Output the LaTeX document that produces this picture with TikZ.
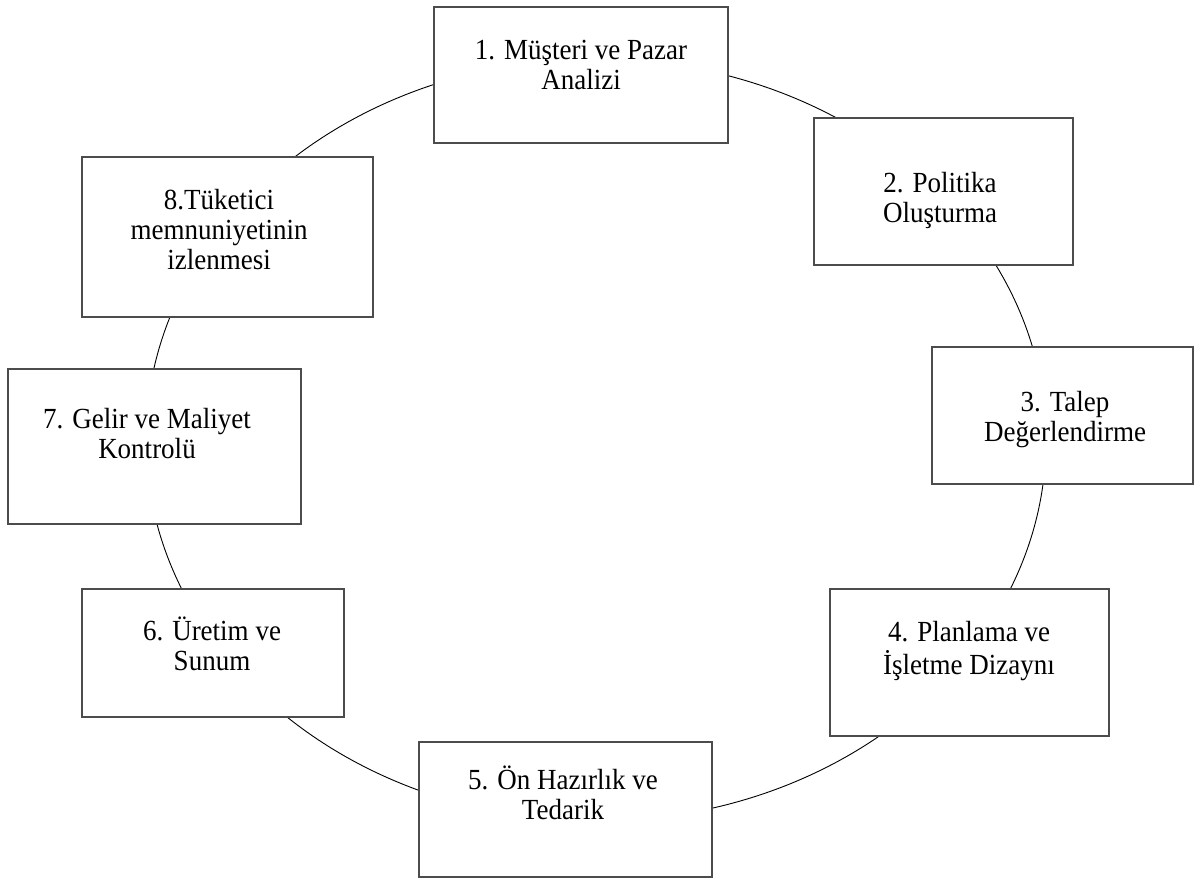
\documentclass[tikz,border=0pt]{standalone}
\usepackage{fontspec}
\setmainfont{Liberation Serif}
\usetikzlibrary{shapes.geometric}
\newcommand{\stagetext}[1]{\scalebox{1}[1.08]{\begin{tabular}[t]{@{}c@{}}#1\end{tabular}}}
\begin{document}
\begin{tikzpicture}[x=1pt,y=-1pt,
  stage/.style={draw=black!70, line width=1.4pt, fill=white, rectangle, inner sep=0pt},
  ring/.style={draw=black, line width=0.9pt, ellipse, inner sep=0pt, minimum width=900pt, minimum height=762pt},
  lbl/.style={anchor=base, inner sep=0pt, font=\fontsize{27}{27.8}\selectfont}]
\fill[white] (0,0) rectangle (1197,879);
\useasboundingbox (0,0) rectangle (1197,879);
\node[ring] (ring) at (596,440) {};
% boxes
\node[stage, minimum width=294pt, minimum height=136pt] (b1) at (581,75) {};
\node[stage, minimum width=259pt, minimum height=147pt] (b2) at (943.5,191.5) {};
\node[stage, minimum width=261pt, minimum height=137pt] (b3) at (1062.5,415.5) {};
\node[stage, minimum width=279pt, minimum height=147pt] (b4) at (969.5,662.5) {};
\node[stage, minimum width=293pt, minimum height=135pt] (b5) at (565.5,809.5) {};
\node[stage, minimum width=262pt, minimum height=128pt] (b6) at (213,653) {};
\node[stage, minimum width=293pt, minimum height=155pt] (b7) at (154.5,446.5) {};
\node[stage, minimum width=291pt, minimum height=160pt] (b8) at (227.5,237) {};
% texts
\node[lbl] (t1) at (581,59) {\stagetext{1. Müşteri ve Pazar\\Analizi}};
\node[lbl] (t2) at (940,192) {\stagetext{2. Politika\\Oluşturma}};
\node[lbl] (t3) at (1065,411) {\stagetext{3. Talep\\Değerlendirme}};
\node[lbl] (t4) at (969,641) {\stagetext{4. Planlama ve\\İşletme Dizaynı}};
\node[lbl] (t5) at (563,789) {\stagetext{5. Ön Hazırlık ve\\Tedarik}};
\node[lbl] (t6) at (212,640) {\stagetext{6. Üretim ve\\Sunum}};
\node[lbl] (t7) at (147,428) {\stagetext{7. Gelir ve Maliyet\\Kontrolü}};
\node[lbl] (t8) at (219,209) {\stagetext{8.Tüketici\\memnuniyetinin\\izlenmesi}};
\end{tikzpicture}
\end{document}
